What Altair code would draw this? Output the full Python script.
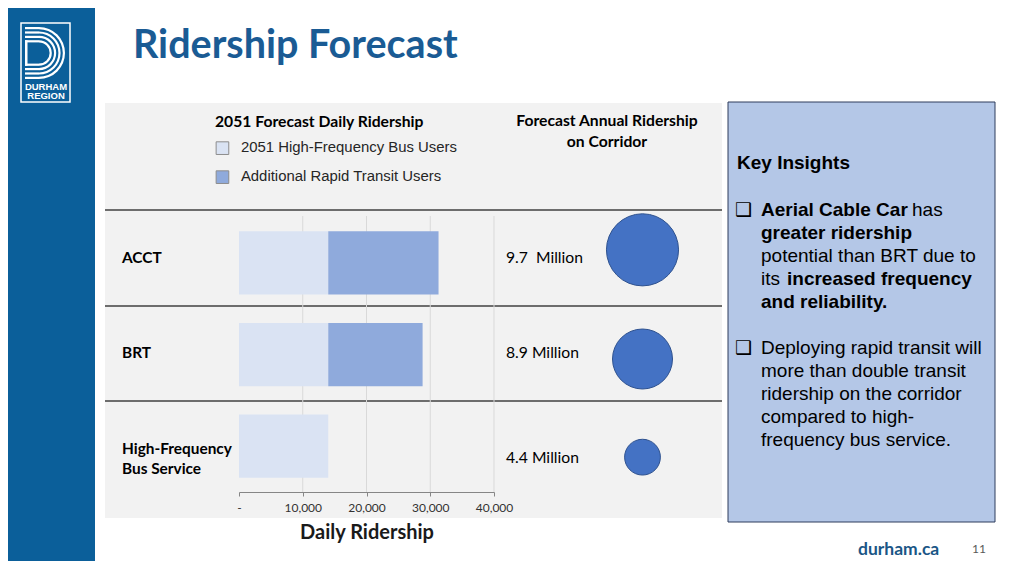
import math
import altair as alt
import pandas as pd

# ---------------- data ----------------
categories = ["ACCT", "BRT", "High-Frequency Bus Service"]
row_labels = ["ACCT", "BRT", "High-Frequency\nBus Service"]
hf_bus_users = [14000, 14000, 14000]
additional_rt_users = [17300, 14800, 0]
annual_ridership_m = [9.7, 8.9, 4.4]
annual_labels = ["9.7\u00a0 Million", "8.9 Million", "4.4 Million"]
series_names = ["2051 High-Frequency Bus Users", "Additional Rapid Transit Users"]
x_ticks = [0, 10000, 20000, 30000, 40000]

bar_rows = []
for c, a, b in zip(categories, hf_bus_users, additional_rt_users):
    bar_rows.append({"category": c, "series": series_names[0], "value": a, "order": 0})
    bar_rows.append({"category": c, "series": series_names[1], "value": b, "order": 1})
bars_df = pd.DataFrame(bar_rows)
rows_df = pd.DataFrame({"category": categories, "label": row_labels,
                        "annual": annual_ridership_m, "annual_label": annual_labels})
ticks_df = pd.DataFrame({"value": x_ticks})

# ---------------- layout helpers (page px -> plot px) ----------------
OX, OY = 239, 210
PW, PH = 255, 282


def px(x):
    return x - OX


def py(y):
    return y - OY


one = alt.Data(values=[{"k": 1}])


def text(s, x, y, size, weight="normal", color="#000000", font="Liberation Sans",
         align="left", baseline="middle"):
    return alt.Chart(one).mark_text(text=s, font=font, fontSize=size, fontWeight=weight,
                                    color=color, align=align, baseline=baseline).encode(
        x=alt.value(px(x)), y=alt.value(py(y)))


def rect(x1, y1, x2, y2, fill, stroke=None, sw=1.0, fill_opacity=1.0):
    kw = dict(fill=fill, fillOpacity=fill_opacity)
    if stroke:
        kw.update(stroke=stroke, strokeWidth=sw)
    return alt.Chart(one).mark_rect(**kw).encode(
        x=alt.value(px(x1)), x2=alt.value(px(x2)), y=alt.value(py(y1)), y2=alt.value(py(y2)))


def hrule(x1, x2, y, color, sw):
    return alt.Chart(one).mark_rule(color=color, strokeWidth=sw).encode(
        x=alt.value(px(x1)), x2=alt.value(px(x2)), y=alt.value(py(y)))


layers = []

# background pieces
layers.append(rect(0, 0, 95, 580, "#0b5f9a"))
layers.append(rect(105, 103, 722, 518, "#f2f2f2"))
layers.append(rect(728, 102, 995, 522, "#b4c7e7", stroke="#2f3d5c", sw=1))

# logo
layers.append(rect(21, 23, 70, 102, "#0b5f9a", stroke="#ffffff", sw=1.5, fill_opacity=0))
cx, cy = 39, 53
for ro, ri in [(26, 23.8), (21.6, 19.4), (17.2, 15.0), (12.8, 10.6)]:
    layers.append(alt.Chart(one).mark_arc(theta=0, theta2=math.pi, radius=ro, radius2=ri,
                                          color="#ffffff").encode(
        x=alt.value(px(cx)), y=alt.value(py(cy))))
    layers.append(rect(25, cy - ro, cx, cy - ri, "#ffffff"))
    layers.append(rect(25, cy + ri, cx, cy + ro, "#ffffff"))
layers.append(rect(25, cy - 12.8, 27.5, cy + 12.8, "#ffffff"))
layers.append(text("DURHAM", 46, 86.5, 9.5, weight="bold", color="#ffffff", align="center"))
layers.append(text("REGION", 46, 95.5, 9.5, weight="bold", color="#ffffff", align="center"))

# title
layers.append(text("Ridership Forecast", 133, 46, 39.5, weight="bold", color="#1a5b94", font="Lato"))

# row separators
for yy in [210, 306, 401]:
    layers.append(hrule(105, 722, yy, "#404040", 1.3))

# column header (right)
HF = 15.7
layers.append(text("Forecast Annual Ridership", 607, 121, HF, weight="bold", font="Lato", align="center"))
layers.append(text("on Corridor", 607, 142, HF, weight="bold", font="Lato", align="center"))

# scales
xscale = alt.Scale(domain=[0, 40000], nice=False, zero=True)
yscale = alt.Scale(domain=categories, range=[7, PH], paddingInner=0.31, paddingOuter=0.155)

x_axis = alt.Axis(values=x_ticks, grid=False, zindex=1,
                  labelExpr="datum.value == 0 ? '-' : format(datum.value, ',')",
                  labelFlush=False, labelFont="Lato", labelFontSize=12, labelColor="#333333",
                  labelPadding=6, tickSize=4, tickColor="#868686", domainColor="#868686",
                  title="Daily Ridership", titleFont="Lato", titleFontSize=20,
                  titleFontWeight="bold", titleColor="#1a1a1a", titlePadding=9)

# gridlines via x scale
layers.append(alt.Chart(ticks_df).transform_filter("datum.value > 0").mark_rule(
    color="#d9d9d9", strokeWidth=1).encode(
    x=alt.X("value:Q", scale=xscale, axis=x_axis),
    y=alt.value(6), y2=alt.value(PH)))

# bars
legend = alt.Legend(orient="none", legendX=-24, legendY=-95, title="2051 Forecast Daily Ridership",
                    titleFont="Lato", titleFontSize=HF, titleFontWeight="bold", titleColor="#000000",
                    titlePadding=10, labelFont="Liberation Sans", labelFontSize=14.9,
                    labelColor="#262626", symbolType="square", symbolSize=160,
                    symbolStrokeColor="#8c8c8c", symbolStrokeWidth=1, rowPadding=12,
                    labelOffset=11, padding=0, labelLimit=400, titleLimit=400)
layers.append(alt.Chart(bars_df).mark_bar(strokeWidth=0).encode(
    x=alt.X("value:Q", stack="zero", scale=xscale, axis=x_axis),
    y=alt.Y("category:N", scale=yscale, axis=None, sort=categories),
    color=alt.Color("series:N", scale=alt.Scale(domain=series_names, range=["#dae3f3", "#8faadc"]),
                    legend=legend),
    order=alt.Order("order:Q")))

# per-row label / circle layers
label_dy = [-5, -1.5, 3]
value_dy = [-5, -1.5, 12]
circle_dy = [-13, 4.5, 11]
for i, c in enumerate(categories):
    base = alt.Chart(rows_df).transform_filter(alt.datum.category == c)
    layers.append(base.mark_text(align="left", baseline="middle", font="Lato", fontSize=15.4,
                                 fontWeight="bold", color="#000000", lineBreak="\n",
                                 lineHeight=20, yOffset=label_dy[i]).encode(
        x=alt.value(px(122)), y=alt.Y("category:N", scale=yscale, axis=None, sort=categories),
        text="label:N"))
    layers.append(base.mark_text(align="left", baseline="middle", font="Lato", fontSize=HF,
                                 color="#000000", yOffset=value_dy[i]).encode(
        x=alt.value(px(506)), y=alt.Y("category:N", scale=yscale, axis=None, sort=categories),
        text="annual_label:N"))
    layers.append(base.mark_circle(opacity=1, fill="#4472c4", stroke="#2f528f", strokeWidth=1,
                                   yOffset=circle_dy[i]).encode(
        x=alt.value(px(642.5)), y=alt.Y("category:N", scale=yscale, axis=None, sort=categories),
        size=alt.Size("annual:Q", scale=alt.Scale(type="linear", domain=[4.4, 8.9, 9.7],
                                                  range=[1280, 3600, 5200]), legend=None)))

# key insights
FS = 19
layers.append(text("Key Insights", 737, 163, FS, weight="bold"))
layers.append(text("\u2751", 735, 210, 19, font="DejaVu Sans"))
layers.append(text("\u2751", 735, 348, 19, font="DejaVu Sans"))
layers.append(text("Aerial Cable Car", 761, 210, FS, weight="bold"))
layers.append(text("has", 912, 210, FS))
layers.append(text("greater ridership", 761, 233, FS, weight="bold"))
layers.append(text("potential than BRT due to", 761, 256, FS))
layers.append(text("its", 761, 279, FS))
layers.append(text("increased frequency", 787, 279, FS, weight="bold"))
layers.append(text("and reliability.", 761, 302, FS, weight="bold"))
for k, line in enumerate(["Deploying rapid transit will", "more than double transit",
                          "ridership on the corridor", "compared to high-",
                          "frequency bus service."]):
    layers.append(text(line, 761, 348 + 23 * k, FS))

# footer
layers.append(text("durham.ca", 858, 550, 17.5, weight="bold", color="#1b5686", font="Lato"))
layers.append(text("11", 972, 549, 12, color="#595959", font="Lato"))

chart = alt.layer(*layers).properties(
    width=PW, height=PH,
    autosize=alt.AutoSizeParams(type="none"),
    padding={"left": OX - 8, "top": OY - 8, "right": 1006 - (OX - 8) - PW, "bottom": 553 - (OY - 8) - PH},
    background="#ffffff",
).configure_view(stroke=None)

chart.save("out.html", embed_options={"renderer": "svg", "actions": False})
